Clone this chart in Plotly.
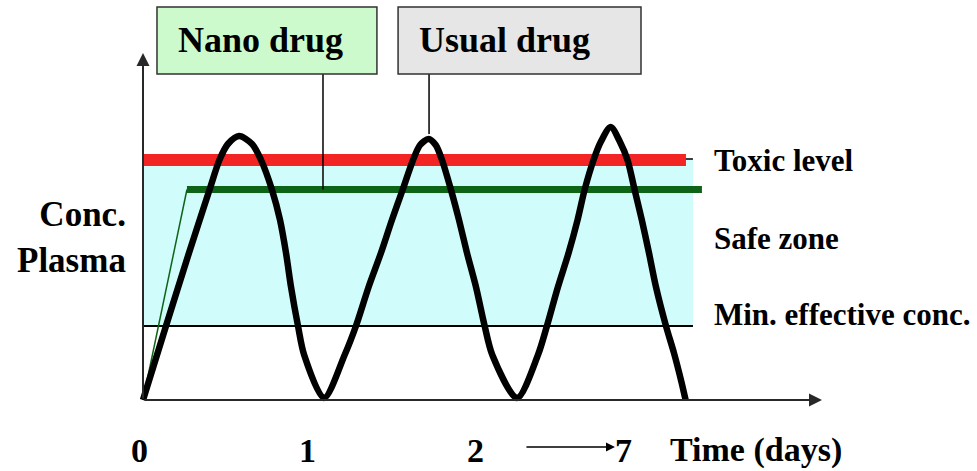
import plotly.graph_objects as go

# time in days, concentration in arbitrary units (schematic)
usual_t = [0.0, 0.138, 0.276, 0.399, 0.459, 0.510, 0.577, 0.655, 0.709, 0.775, 0.823, 0.859,
           0.889, 0.931, 0.968, 1.087, 1.211, 1.279, 1.355, 1.429, 1.495, 1.559,
           1.622, 1.664, 1.715, 1.758, 1.796, 1.850, 1.898, 1.946, 2.000, 2.052, 2.098,
           2.246, 2.372, 2.426, 2.492, 2.556, 2.610, 2.652, 2.706, 2.749, 2.809, 2.865,
           2.910, 2.953, 2.996, 3.039, 3.081, 3.141, 3.189, 3.231, 3.259]
usual_conc = [0.0, 0.74, 1.47, 2.10, 2.40, 2.56, 2.64, 2.56, 2.40, 2.10, 1.80, 1.47,
              1.13, 0.74, 0.45, 0.02, 0.45, 0.74, 1.13, 1.47, 1.80, 2.10,
              2.40, 2.55, 2.61, 2.55, 2.40, 2.10, 1.80, 1.47, 1.13, 0.74, 0.45,
              0.02, 0.45, 0.74, 1.13, 1.47, 1.80, 2.10, 2.40, 2.58, 2.73, 2.58,
              2.40, 2.10, 1.80, 1.47, 1.13, 0.74, 0.47, 0.20, 0.0]

nano_ramp_t = [0.0, 0.264]
nano_ramp_conc = [0.0, 2.105]
nano_t = [0.264, 3.357]
nano_conc = [2.105, 2.105]

toxic_t = [0.0, 3.261]
toxic_level = 2.40
min_effective = 0.74
safe_zone_end = 3.303

tick_days = [-0.024, 0.985, 1.994, 2.883]
tick_text = ['0', '1', '2', '7']

FONT = 'Liberation Serif, Times New Roman, serif'
RED = 'rgb(243,36,36)'
GREEN = 'rgb(14,100,22)'
CYAN = 'rgb(208,252,252)'

fig = go.Figure()

# safe zone band
fig.add_shape(type='rect', x0=0, x1=safe_zone_end, y0=min_effective, y1=toxic_level + 0.01,
              fillcolor=CYAN, line_width=0, layer='below')
fig.add_shape(type='line', x0=0, x1=safe_zone_end, y0=toxic_level + 0.01, y1=toxic_level + 0.01,
              line=dict(color='black', width=1.5), layer='below')
fig.add_trace(go.Scatter(x=[0, safe_zone_end], y=[min_effective, min_effective], mode='lines',
                         line=dict(color='black', width=2)))

# toxic level
fig.add_trace(go.Scatter(x=toxic_t, y=[toxic_level] * 2, mode='lines',
                         line=dict(color=RED, width=12)))

# nano drug
fig.add_trace(go.Scatter(x=nano_ramp_t, y=nano_ramp_conc, mode='lines',
                         line=dict(color=GREEN, width=1.5)))
fig.add_trace(go.Scatter(x=nano_t, y=nano_conc, mode='lines',
                         line=dict(color=GREEN, width=7)))

# usual drug
fig.add_trace(go.Scatter(x=usual_t, y=usual_conc, mode='lines',
                         line=dict(color='black', width=6.5, shape='spline', smoothing=0.8)))

# axes with arrows
fig.add_annotation(x=0, y=3.47, ax=0, ay=0, xref='x', yref='y', axref='x', ayref='y',
                   text='', showarrow=True, arrowhead=2, arrowsize=1.3, arrowwidth=2,
                   arrowcolor='rgb(40,40,40)')
fig.add_annotation(x=4.078, y=0, ax=0, ay=0, xref='x', yref='y', axref='x', ayref='y',
                   text='', showarrow=True, arrowhead=2, arrowsize=1.3, arrowwidth=2,
                   arrowcolor='rgb(40,40,40)')
fig.add_annotation(x=2.835, y=-0.47, ax=2.294, ay=-0.47, xref='x', yref='y', axref='x', ayref='y',
                   text='', showarrow=True, arrowhead=2, arrowsize=1.2, arrowwidth=1.5,
                   arrowcolor='black')

# label boxes and connectors
fig.add_shape(type='line', x0=1.081, x1=1.081, y0=3.26, y1=2.105, line=dict(color='black', width=1.5))
fig.add_shape(type='line', x0=1.718, x1=1.718, y0=3.26, y1=2.66, line=dict(color='black', width=1.5))
fig.add_shape(type='rect', x0=0.084, x1=1.405, y0=3.26, y1=3.93,
              fillcolor='rgb(204,250,204)', line=dict(color='rgb(50,50,50)', width=1.5))
fig.add_shape(type='rect', x0=1.532, x1=2.991, y0=3.26, y1=3.93,
              fillcolor='rgb(230,230,230)', line=dict(color='rgb(50,50,50)', width=1.5))

for text, x in [('Nano drug', 0.703), ('Usual drug', 2.174)]:
    fig.add_annotation(x=x, y=3.60, text=f'<b>{text}</b>', showarrow=False,
                       font=dict(family=FONT, size=36, color='black'))

for text, y in [('Toxic level', 2.40), ('Safe zone', 1.62), ('Min. effective conc.', 0.86)]:
    fig.add_annotation(x=3.417, y=y, text=f'<b>{text}</b>', showarrow=False, xanchor='left',
                       font=dict(family=FONT, size=31, color='black'))

fig.add_annotation(x=-0.09, y=1.63, text='<b>Conc.<br>Plasma</b>', showarrow=False,
                   xanchor='right', align='right',
                   font=dict(family=FONT, size=35, color='black'))

for text, x in zip(tick_text, tick_days):
    fig.add_annotation(x=x, y=-0.50, text=f'<b>{text}</b>', showarrow=False,
                       font=dict(family=FONT, size=34, color='black'))
fig.add_annotation(x=3.682, y=-0.50, text='<b>Time (days)</b>', showarrow=False,
                   font=dict(family=FONT, size=34, color='black'))

fig.update_traces(showlegend=False, hoverinfo='skip')
fig.update_layout(
    width=977, height=471,
    margin=dict(l=0, r=0, t=0, b=0),
    paper_bgcolor='white', plot_bgcolor='white',
    xaxis=dict(range=[-143 / 166.5, 834 / 166.5], visible=False, fixedrange=True),
    yaxis=dict(range=[-0.71, 4.0], visible=False, fixedrange=True),
)

fig.write_html('out.html', config={'displayModeBar': False},
               post_script="document.body.style.margin = '0';")
